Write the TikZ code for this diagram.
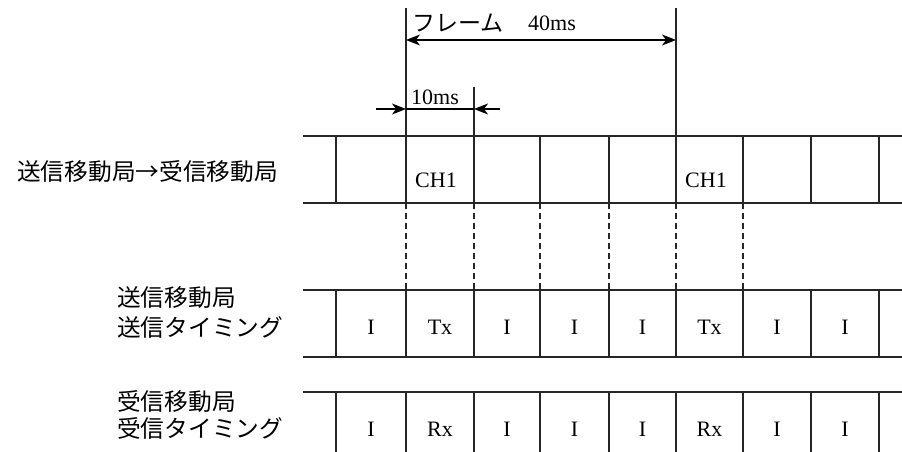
\documentclass[tikz,border=0pt]{standalone}
\usepackage{fontspec}
\setmainfont{Liberation Serif}
\newfontfamily\jp{Noto Sans CJK JP}
\usetikzlibrary{arrows.meta}
\tikzset{
  ln/.style={line width=1.1pt, black!85},
  dsh/.style={line width=1.1pt, black!85, dash pattern=on 6pt off 4pt},
  lbl/.style={font=\jp\fontsize{23.7}{28}\selectfont, inner sep=0pt, anchor=west, align=left},
  jptxt/.style={font=\jp\fontsize{23}{26}\selectfont, inner sep=0pt, anchor=west},
  cell/.style={font=\fontsize{22}{24}\selectfont, inner sep=0pt},
  tip/.style={-{Stealth[length=14pt,width=11pt,inset=4pt]}, line width=1.3pt},
  dbl/.style={{Stealth[length=14pt,width=11pt,inset=4pt]}-{Stealth[length=14pt,width=11pt,inset=4pt]}, line width=1.2pt},
}
\begin{document}
\begin{tikzpicture}[x=1pt,y=-1pt]
\useasboundingbox (0,0) rectangle (902,452);

% labels
\node[lbl] (lab1) at (17,172) {送信移動局→受信移動局};
\node[lbl] (lab2a) at (117,298) {送信移動局};
\node[lbl] (lab2b) at (117,327) {送信タイミング};
\node[lbl] (lab3a) at (117,402) {受信移動局};
\node[lbl] (lab3b) at (117,428) {受信タイミング};

% horizontal row lines
\draw[ln] (303,136) -- (902,136);
\draw[ln] (303,203) -- (902,203);
\draw[ln] (303,290) -- (902,290);
\draw[ln] (303,357) -- (902,357);
\draw[ln] (303,392) -- (902,392);

% vertical cell separators
\foreach \x in {336,406,474,540,609,676,743,811,879}{
  \draw[ln] (\x,136) -- (\x,203);
  \draw[ln] (\x,290) -- (\x,357);
  \draw[ln] (\x,392) -- (\x,452);
}

% dashed guides
\foreach \x in {406,474,540,609,676,743}{
  \draw[dsh] (\x,203) -- (\x,290);
}

% frame markers
\draw[ln] (406,8) -- (406,136);
\draw[ln] (676,8) -- (676,136);
\draw[ln] (474,87) -- (474,136);

% frame text and arrow
\node[jptxt] (tfr) at (412,23) {フレーム};
\node[cell, anchor=west] (t40) at (528,23) {40ms};
\coordinate (fL) at (406,40);
\coordinate (fR) at (676,40);
\draw[dbl] (fL) -- (fR);

% 10ms
\node[cell, anchor=west] (t10) at (411,97) {10ms};
\coordinate (aL0) at (376,109);
\coordinate (aL) at (406,109);
\coordinate (aR0) at (500,109);
\coordinate (aR) at (474,109);
\draw[tip] (aL0) -- (aL);
\draw[tip] (aR0) -- (aR);
\draw[line width=1.2pt] (aL) -- (aR);

% row 1 texts
\node[cell, anchor=west] (ch1a) at (415,180) {CH1};
\node[cell, anchor=west] (ch1b) at (685,180) {CH1};

% row 2 texts
\foreach \c/\t [count=\i] in {371/I,440/Tx,507/I,574.5/I,642.5/I,709.5/Tx,777/I,845/I}{
  \node[cell] (r2c\i) at (\c,327) {\t};
}
% row 3 texts
\foreach \c/\t [count=\i] in {371/I,440/Rx,507/I,574.5/I,642.5/I,709.5/Rx,777/I,845/I}{
  \node[cell] (r3c\i) at (\c,429) {\t};
}
\end{tikzpicture}
\end{document}
